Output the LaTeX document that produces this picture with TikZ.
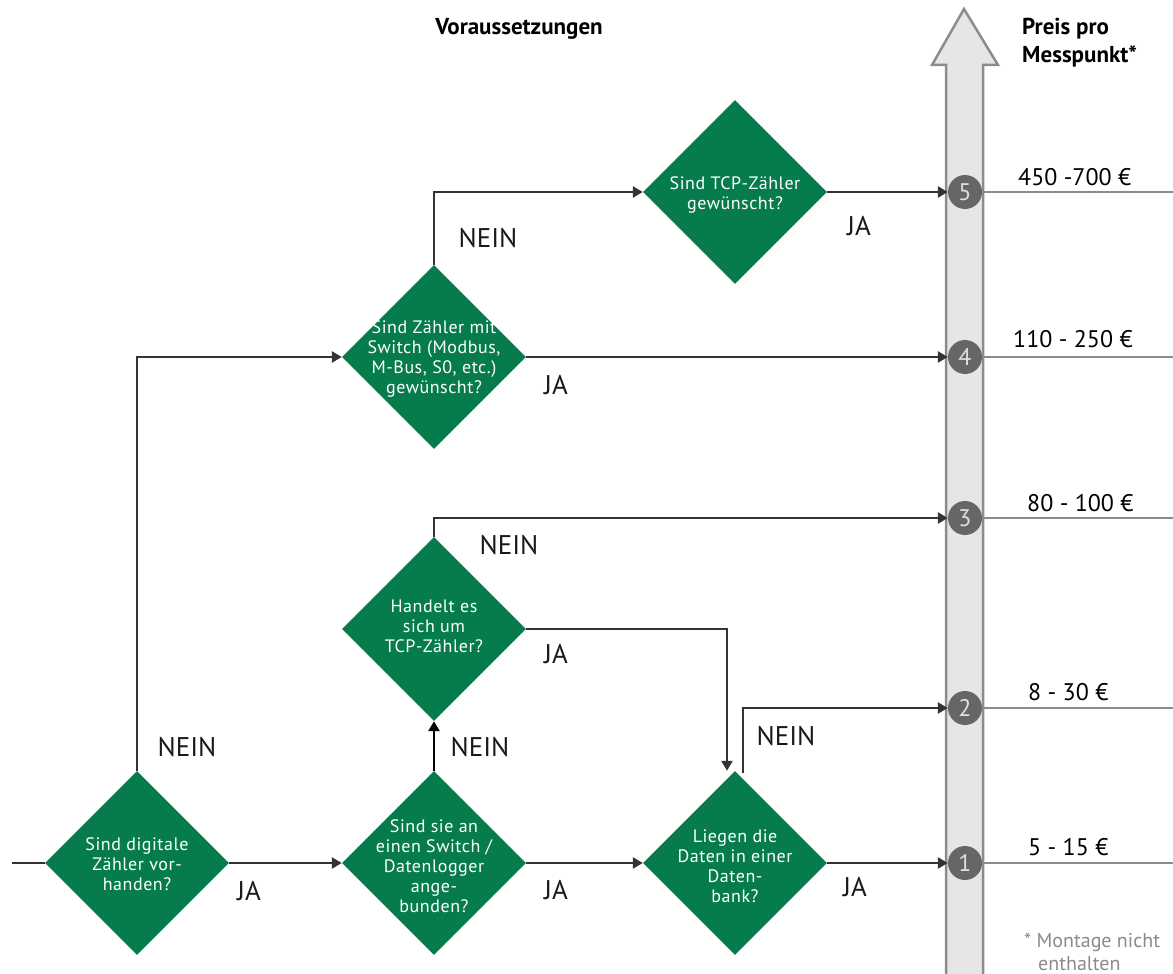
\documentclass[tikz,border=0pt]{standalone}
\usepackage{fontspec}
\setmainfont{PT Sans}
\newfontfamily\dfont[LetterSpace=3]{PT Sans}
\usetikzlibrary{shapes.geometric,arrows.meta}
\definecolor{dgreen}{HTML}{067C4C}
\definecolor{conncol}{HTML}{333333}
\definecolor{bargray}{HTML}{E6E6E6}
\definecolor{barline}{HTML}{8C8C8C}
\definecolor{circfill}{HTML}{666666}
\definecolor{notegray}{HTML}{8A8A8A}
\begin{document}
\begin{tikzpicture}[x=1pt,y=-1pt,
  dia/.style={diamond, fill=dgreen, minimum width=184pt, minimum height=184pt, inner sep=0pt, shape aspect=1},
  dtext/.style={text=white, align=center, inner sep=0pt, font=\dfont\fontsize{18}{20}\selectfont},
  lbl/.style={font=\fontsize{27}{30}\selectfont, text=black!90, inner sep=0pt},
  flow/.style={draw=conncol, line width=2.5pt},
  arr/.style={flow, -{Triangle[length=10pt,width=11pt]}},
  numc/.style={circle, fill=circfill, minimum size=34pt, inner sep=0pt, text=white!88!black, font=\fontsize{24}{24}\selectfont},
  price/.style={anchor=base west, inner sep=0pt, font=\fontsize{24}{26}\selectfont},
  head/.style={anchor=base west, inner sep=0pt, font=\bfseries\fontsize{23}{26}\selectfont},
  note/.style={anchor=base west, inner sep=0pt, text=notegray, font=\fontsize{20}{22}\selectfont},
  pline/.style={draw=barline, line width=2.5pt}
]
\useasboundingbox (0,0) rectangle (1173,974);

% price scale bar
\filldraw[fill=bargray, draw=barline, line width=2.5pt, line join=miter]
  (946,990) -- (946,65) -- (932,65) -- (964,9) -- (998,65) -- (983,65) -- (983,990);

% circles
\node[numc] (c5) at (965,192) {5};
\node[numc] (c4) at (965,357) {4};
\node[numc] (c3) at (965,518) {3};
\node[numc] (c2) at (965,708) {2};
\node[numc] (c1) at (965,863) {1};

\coordinate (r5) at (1173,192);
\coordinate (r4) at (1173,357);
\coordinate (r3) at (1173,518);
\coordinate (r2) at (1173,708);
\coordinate (r1) at (1173,863);
\draw[pline] (c5.east) -- (r5);
\draw[pline] (c4.east) -- (r4);
\draw[pline] (c3.east) -- (r3);
\draw[pline] (c2.east) -- (r2);
\draw[pline] (c1.east) -- (r1);

\node[price] (p5) at (1018,185) {450 -700 €};
\node[price] (p4) at (1013,347) {110 - 250 €};
\node[price] (p3) at (1027,511) {80 - 100 €};
\node[price] (p2) at (1028,700) {8 - 30 €};
\node[price] (p1) at (1028,855) {5 - 15 €};

% headings
\node[head, anchor=base] (hv) at (519,35) {Voraussetzungen};
\node[head] (hp1) at (1022,35) {Preis pro};
\node[head] (hp2) at (1022,63) {Messpunkt*};

% footnote
\node[note] (n1) at (1024,947) {* Montage nicht};
\node[note] (n2) at (1038,970) {enthalten};

% diamonds
\node[dia] (d1) at (137,863) {};
\node[dia] (d2) at (434,863) {};
\node[dia] (d3) at (735,863) {};
\node[dia] (d4) at (434,629) {};
\node[dia] (d5) at (434,357) {};
\node[dia] (d6) at (735,192) {};

\node[dtext] (t1) at (137,864) {Sind digitale\\Zähler vor-\\handen?};
\node[dtext] (t2) at (434,866) {Sind sie an\\einen Switch /\\Datenlogger\\ange-\\bunden?};
\node[dtext] (t3) at (735,866) {Liegen die\\Daten in einer\\Daten-\\bank?};
\node[dtext] (t4) at (434,626) {Handelt es\\sich um\\TCP-Zähler?};
\node[dtext] (t5) at (434,359) {Sind Zähler mit\\Switch (Modbus,\\M-Bus, S0, etc.)\\gewünscht?};
\node[dtext] (t6) at (735,195) {Sind TCP-Zähler\\gewünscht?};

% connectors
\coordinate (start) at (12,863);
\draw[flow] (start) -- (d1.west);
\draw[arr] (d1.east) -- (d2.west);
\draw[arr] (d1.north) |- (d5.west);
\draw[arr] (d2.east) -- (d3.west);
\draw[arr, draw=black] (d2.north) -- (d4.south);
\draw[arr] (d4.north) |- (c3.west);
\draw[arr] (d4.east) -| ([xshift=-8pt]d3.north);
\draw[arr] ([xshift=8pt,yshift=-2pt]d3.north) |- (c2.west);
\draw[arr] (d3.east) -- (c1.west);
\draw[arr] (d5.east) -- (c4.west);
\draw[arr] (d5.north) |- (d6.west);
\draw[arr] (d6.east) -- (c5.west);

% labels
\node[lbl] (l1) at (249,891) {JA};
\node[lbl] (l2) at (187,747) {NEIN};
\node[lbl] (l3) at (556,890) {JA};
\node[lbl] (l4) at (480,747) {NEIN};
\node[lbl] (l5) at (855,887) {JA};
\node[lbl] (l6) at (786,736) {NEIN};
\node[lbl] (l7) at (509,545) {NEIN};
\node[lbl] (l8) at (556,654) {JA};
\node[lbl] (l9) at (556,385) {JA};
\node[lbl] (l10) at (488,238) {NEIN};
\node[lbl] (l11) at (859,226) {JA};
\end{tikzpicture}
\end{document}
